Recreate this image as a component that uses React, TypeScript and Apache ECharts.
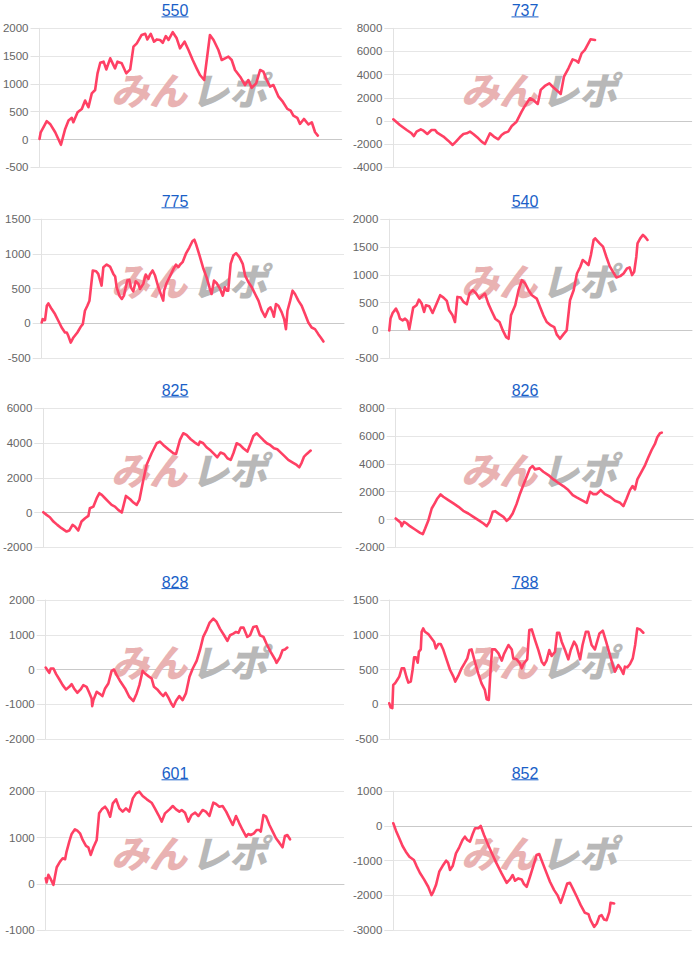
import React, { useEffect, useRef } from "react";
import * as echarts from "echarts";

type P = [number, number];

const titles = ["550", "737", "775", "540", "825", "826", "828", "788", "601", "852"];

// x = progress along the x axis (0..100), y = difference value
const d550: P[] = [[0,10],[0.4,130],[2.4,330],[3.5,280],[5.2,130],[7.1,-95],[8.5,190],[9.6,340],[10.7,390],[11.2,310],[12.6,490],[14.0,550],[15.1,700],[16.2,580],[17.3,830],[18.4,890],[19.2,1190],[20.1,1380],[21.2,1400],[22.1,1260],[23.4,1460],[25.0,1280],[25.8,1400],[27.2,1370],[28.7,1190],[30.0,1260],[31.1,1670],[32.2,1730],[33.8,1880],[35.0,1900],[35.7,1800],[36.8,1900],[37.9,1760],[38.8,1800],[39.9,1790],[40.8,1740],[41.8,1860],[42.7,1790],[44.1,1930],[45.4,1820],[46.5,1640],[48.0,1760],[49.3,1610],[50.7,1430],[52.0,1280],[53.1,1160],[54.5,1070],[56.4,1880],[57.6,1790],[59.2,1610],[60.3,1430],[61.4,1460],[62.5,1490],[63.6,1430],[64.7,1250],[66.4,1130],[68.0,980],[69.1,1070],[70.2,930],[71.7,1010],[73.0,1250],[74.1,1220],[75.2,1070],[76.3,950],[77.4,980],[79.1,770],[80.5,680],[82.0,550],[83.1,520],[84.0,430],[85.3,390],[86.2,280],[87.5,370],[89.0,270],[90.1,310],[91.2,130],[92.1,70]];

const d737: P[] = [[0,140],[2.2,-345],[4.5,-780],[6.1,-1065],[6.9,-1300],[7.8,-920],[9.2,-720],[10.1,-835],[11.4,-1120],[12.8,-780],[14.0,-780],[14.7,-1010],[16.8,-1350],[18.4,-1700],[19.9,-2070],[21.0,-1785],[22.3,-1410],[23.5,-1120],[24.6,-1065],[25.7,-920],[26.8,-1120],[28.5,-1500],[29.6,-1785],[30.7,-1985],[32.4,-1065],[33.7,-1350],[35.2,-1580],[36.3,-1210],[37.4,-1010],[38.5,-920],[39.7,-430],[41.3,-60],[43.0,805],[44.1,1295],[45.8,1960],[46.9,1810],[48.4,1470],[49.4,2680],[50.8,3020],[52.3,3250],[53.6,2910],[55.3,2530],[56.1,2330],[57.2,3830],[58.7,4550],[60.1,5320],[61.2,5210],[62.0,5040],[63.1,5840],[64.2,6130],[65.1,6560],[66.1,7050],[67.6,6990]];

const d775: P[] = [[0,14],[0.3,63],[0.8,48],[1.1,48],[1.7,255],[2.2,289],[3.3,207],[4.4,135],[5.5,39],[6.6,-58],[7.7,-130],[8.3,-130],[8.8,-178],[9.6,-275],[10.5,-202],[11.8,-130],[12.9,-48],[13.6,-10],[14.3,183],[15.1,255],[15.8,328],[16.9,762],[18.0,752],[18.7,713],[19.8,545],[20.4,810],[21.5,848],[22.6,819],[23.7,713],[24.3,675],[24.8,520],[25.7,400],[26.5,352],[27.2,400],[28.3,617],[29.0,627],[29.5,520],[30.3,463],[31.1,607],[32.0,569],[32.5,497],[33.6,569],[34.4,704],[35.3,641],[35.8,704],[36.7,762],[37.5,689],[38.6,520],[39.7,386],[40.2,328],[40.5,472],[41.3,578],[42.4,675],[43.6,786],[44.4,848],[45.2,810],[45.8,848],[46.6,882],[47.7,1003],[48.8,1089],[49.9,1186],[50.5,1205],[51.0,1147],[52.2,978],[53.5,786],[54.6,656],[55.5,520],[56.2,424],[57.0,617],[57.9,578],[59.0,497],[59.9,400],[60.6,520],[61.2,472],[61.7,472],[62.5,858],[63.4,978],[64.3,1012],[65.4,954],[66.5,858],[67.3,689],[68.4,593],[69.5,520],[70.6,424],[71.7,328],[72.8,183],[73.9,96],[75.0,207],[75.7,231],[76.4,159],[76.8,96],[77.5,280],[78.3,255],[79.4,159],[80.2,63],[80.8,-82],[81.3,183],[82.2,328],[83.0,472],[83.8,424],[84.9,328],[86.0,255],[87.1,135],[88.2,14],[89.3,-58],[90.4,-82],[91.5,-154],[92.3,-202],[93.2,-260]];

const d540: P[] = [[0,0],[0.4,211],[1.1,313],[2.2,392],[3.0,301],[3.5,211],[4.4,181],[5.2,211],[6.0,169],[6.6,20],[7.9,410],[9.0,452],[9.8,554],[10.7,482],[11.5,331],[12.1,452],[13.2,434],[14.3,313],[15.4,452],[16.8,633],[17.9,590],[19.0,530],[19.8,361],[20.9,271],[21.7,151],[22.5,602],[23.6,590],[24.5,512],[25.6,470],[26.5,663],[27.6,723],[28.7,663],[29.8,572],[30.5,614],[31.6,663],[32.7,482],[33.8,349],[35.0,211],[36.4,151],[37.5,0],[38.6,-120],[39.4,-151],[40.2,271],[41.6,452],[42.7,723],[43.8,904],[44.9,843],[46.0,723],[47.1,633],[48.7,572],[49.8,422],[50.9,271],[52.0,151],[53.4,90],[54.5,60],[55.3,-72],[56.4,-151],[57.5,-72],[58.6,0],[59.7,542],[60.9,723],[62.0,1024],[63.1,1145],[63.9,1265],[65.0,1217],[65.8,1175],[66.6,1355],[67.5,1626],[68.0,1656],[69.5,1566],[70.6,1506],[71.7,1325],[72.8,1157],[74.1,1036],[75.0,952],[76.3,976],[77.4,1024],[78.5,1114],[79.4,1133],[80.2,994],[80.9,1054],[81.6,1325],[82.0,1566],[82.9,1656],[83.8,1717],[84.6,1675],[85.3,1626]];

const d825: P[] = [[0,19],[1.1,-134],[2.2,-268],[3.4,-518],[4.7,-709],[6.1,-901],[7.8,-1093],[8.7,-1035],[9.8,-709],[10.6,-805],[11.7,-1035],[12.8,-518],[14.0,-326],[15.1,-192],[15.6,249],[16.8,345],[17.9,824],[18.8,1112],[19.6,1016],[20.7,824],[21.8,633],[22.9,441],[24.0,345],[25.1,153],[26.3,0],[27.7,958],[29.1,767],[30.2,575],[31.3,441],[32.2,728],[33.3,1687],[34.6,2741],[36.3,3412],[38.0,3987],[39.1,4083],[40.2,3891],[41.9,3642],[43.6,3412],[44.5,3374],[45.8,4179],[46.9,4563],[48.0,4467],[49.4,4218],[50.8,4026],[52.0,3891],[52.5,4083],[53.6,3987],[54.7,3757],[56.1,3566],[57.2,3374],[58.3,3182],[59.4,3451],[60.6,3374],[61.7,3125],[62.8,3029],[63.7,3412],[64.8,3987],[65.9,3891],[67.0,3700],[68.4,3508],[69.5,3987],[70.4,4409],[71.5,4563],[72.6,4371],[73.7,4179],[74.9,3987],[76.0,3891],[77.3,3700],[78.4,3642],[79.6,3451],[81.0,3221],[82.1,3029],[83.6,2876],[84.9,2741],[85.8,2607],[86.6,2876],[87.4,3221],[88.3,3374],[89.6,3566]];

const d826: P[] = [[0,72],[0.9,-96],[1.7,-240],[2.0,-481],[2.8,-168],[3.7,-288],[4.8,-481],[6.5,-721],[8.2,-962],[9.1,-1058],[9.9,-649],[11.0,-48],[12.1,793],[13.2,1202],[14.0,1514],[15.1,1803],[16.0,1635],[17.7,1394],[19.4,1154],[21.1,913],[22.7,625],[24.4,433],[26.1,192],[27.8,-48],[29.5,-288],[30.6,-481],[31.5,-168],[32.6,553],[33.4,601],[34.8,385],[36.2,192],[37.3,-96],[38.2,72],[39.3,433],[40.6,1106],[41.8,1875],[42.9,2476],[44.0,3077],[45.1,3678],[46.0,3846],[46.8,3606],[48.3,3678],[49.6,3438],[51.3,3197],[53.0,2885],[54.6,2644],[56.3,2404],[58.0,2115],[59.5,1755],[60.8,1587],[62.5,1394],[64.2,1202],[65.3,1995],[66.4,1827],[67.5,1827],[68.9,2115],[70.3,1827],[72.0,1635],[73.7,1346],[75.4,1202],[76.5,962],[77.6,1514],[78.7,2115],[79.6,2404],[80.4,2164],[81.2,2885],[82.3,3318],[83.8,3918],[84.9,4471],[86.0,5000],[87.1,5433],[87.9,5914],[88.8,6202],[89.4,6250]];

const d828: P[] = [[0,57],[0.6,-19],[1.2,-96],[1.7,29],[2.6,29],[3.5,-134],[4.6,-287],[5.7,-450],[6.8,-574],[7.9,-498],[8.7,-421],[9.5,-545],[10.6,-670],[11.7,-574],[12.6,-450],[13.7,-498],[14.6,-670],[15.4,-833],[15.6,-1053],[16.0,-880],[17.1,-641],[18.2,-708],[19.0,-766],[19.9,-545],[21.0,-402],[22.1,-38],[22.9,0],[23.8,-163],[25.1,-354],[26.6,-545],[28.0,-785],[29.4,-909],[30.5,-689],[31.4,-450],[32.5,-38],[33.3,-115],[34.4,-191],[35.5,-258],[36.3,-498],[37.4,-574],[38.5,-689],[39.4,-766],[40.2,-670],[41.1,-804],[42.2,-995],[42.8,-1072],[43.7,-900],[44.8,-766],[45.9,-880],[47.0,-689],[48.2,-211],[49.3,29],[50.6,249],[51.7,555],[52.8,938],[54.0,1148],[54.9,1340],[56.2,1464],[57.3,1368],[58.4,1177],[59.8,986],[60.9,823],[61.8,986],[62.9,1033],[63.8,1081],[64.6,1053],[65.4,1206],[66.3,1206],[67.6,938],[68.5,986],[69.6,1225],[70.7,1244],[71.8,986],[73.0,938],[74.1,727],[75.4,507],[76.9,287],[77.4,191],[78.5,344],[79.4,555],[80.2,574],[81.0,632]];

const d788: P[] = [[0,14],[0.4,-43],[1.0,-57],[1.3,278],[1.9,301],[2.6,349],[3.3,397],[4.1,517],[4.9,517],[5.7,388],[6.3,311],[7.1,325],[7.7,493],[8.2,675],[8.8,675],[9.4,598],[9.8,756],[10.4,789],[10.7,1043],[11.2,1091],[11.8,1043],[12.9,1010],[14.0,947],[14.8,900],[15.4,804],[16.2,866],[17.0,866],[17.9,780],[19.0,636],[20.1,493],[21.2,397],[21.8,325],[22.8,407],[23.9,517],[25.0,598],[25.8,660],[26.5,780],[27.2,789],[28.3,612],[29.4,445],[30.5,301],[31.6,206],[32.2,72],[32.9,62],[33.5,502],[34.0,789],[35.0,789],[36.1,732],[37.2,627],[37.9,722],[39.4,852],[40.5,789],[41.0,660],[42.1,646],[43.2,589],[43.8,517],[44.5,589],[45.6,646],[46.3,1067],[47.1,1077],[48.2,923],[49.3,780],[50.4,612],[51.2,565],[52.0,627],[52.9,780],[53.7,694],[54.8,756],[55.5,1029],[56.2,1029],[57.0,900],[58.1,780],[59.2,646],[60.0,780],[61.1,900],[61.9,842],[63.1,646],[63.9,852],[65.0,1043],[65.8,1043],[66.9,852],[68.0,789],[69.5,1019],[70.6,1058],[71.7,900],[72.8,732],[73.9,565],[74.6,469],[75.7,565],[76.5,517],[77.4,435],[77.9,541],[78.7,531],[79.6,579],[80.5,660],[81.3,852],[82.0,1091],[82.9,1077],[84.0,1029]];

const d601: P[] = [[0,122],[0.3,29],[0.9,194],[1.7,101],[2.6,-22],[3.1,158],[3.7,359],[4.8,481],[5.7,553],[6.5,531],[7.0,696],[7.9,912],[8.7,1077],[9.8,1178],[10.6,1149],[11.5,1091],[12.4,948],[13.5,819],[14.3,790],[15.1,625],[16.0,790],[17.1,948],[17.9,1522],[18.8,1608],[19.9,1666],[20.7,1594],[21.6,1450],[22.5,1738],[23.6,1824],[24.7,1630],[25.8,1558],[26.9,1630],[28.0,1558],[29.2,1845],[30.3,1953],[31.4,1989],[32.5,1896],[33.9,1824],[35.5,1752],[36.6,1630],[37.8,1486],[38.9,1343],[40.0,1522],[41.5,1608],[42.6,1680],[43.7,1608],[44.8,1558],[45.6,1594],[46.7,1536],[47.8,1343],[48.9,1486],[50.1,1536],[51.2,1465],[52.6,1594],[53.7,1558],[54.9,1465],[56.2,1752],[57.1,1723],[58.2,1666],[59.3,1680],[60.5,1558],[61.6,1414],[62.7,1271],[63.8,1465],[64.9,1307],[66.0,1163],[67.2,1020],[67.9,1077],[68.7,1055],[69.8,1091],[70.7,1163],[71.6,1163],[72.1,1127],[73.0,1486],[73.9,1450],[75.0,1271],[76.1,1127],[77.2,984],[78.3,890],[79.4,790],[80.2,1034],[81.0,1055],[81.9,962]];

const d852: P[] = [[0,77],[0.9,-135],[2.0,-356],[3.1,-577],[4.2,-740],[5.4,-885],[6.9,-981],[7.8,-1154],[8.9,-1346],[10.3,-1538],[11.7,-1750],[12.8,-1990],[13.4,-1894],[14.3,-1702],[15.4,-1317],[16.5,-1154],[17.7,-1000],[18.4,-1058],[19.0,-1269],[19.9,-1154],[21.0,-788],[22.1,-615],[23.2,-404],[24.0,-308],[24.8,-404],[25.7,-452],[26.6,-231],[27.4,-67],[28.5,-67],[29.3,0],[30.4,-260],[31.8,-548],[33.3,-837],[34.6,-1077],[36.3,-1365],[38.0,-1635],[39.1,-1538],[40.0,-1413],[40.8,-1577],[41.9,-1510],[43.0,-1538],[43.8,-1673],[44.7,-1750],[45.8,-1462],[46.9,-1154],[48.0,-837],[48.9,-808],[50.1,-1077],[51.4,-1365],[52.5,-1606],[53.9,-1846],[55.0,-1990],[56.1,-2212],[57.2,-1942],[58.3,-1654],[59.2,-1635],[60.3,-1827],[61.5,-2038],[62.8,-2279],[64.2,-2500],[65.4,-2538],[66.1,-2712],[67.3,-2904],[68.2,-2808],[69.1,-2596],[69.8,-2567],[70.6,-2692],[71.5,-2712],[72.4,-2471],[72.8,-2212],[74.0,-2231]];

const seriesData: P[][] = [d550, d737, d775, d540, d825, d826, d828, d788, d601, d852];

const yMin = [-500, -4000, -500, -500, -2000, -2000, -2000, -500, -1000, -3000];
const yMax = [2000, 8000, 1500, 2000, 6000, 8000, 2000, 1500, 2000, 1000];
const yStep = [500, 2000, 500, 500, 2000, 2000, 1000, 500, 1000, 1000];

// layout (pixels inside each 350px-wide cell)
const axisLeft = [39.5, 43.3, 41.7, 39.3, 43.3, 45.7, 45.7, 39.3, 45.7, 43.3];
const plotRight = [341.7, 341.7, 344, 342, 341.7, 343.3, 344, 341.7, 344, 341.7];
const rowTop = [28.3, 219.2, 408.3, 600, 791.2];
const plotH = 139;

const FONT = '"Liberation Sans", Arial, Helvetica, sans-serif';
const LINK = "#1a5fc8";
const RED = "#ff4064";

export default function App() {
  const ref = useRef<HTMLDivElement>(null);

  useEffect(() => {
    if (!ref.current) return;
    const chart = echarts.init(ref.current, undefined, { renderer: "svg" });

    const grids: any[] = [];
    const xAxes: any[] = [];
    const yAxes: any[] = [];
    const series: any[] = [];
    const graphics: any[] = [];

    seriesData.forEach((data, i) => {
      const col = i % 2;
      const row = Math.floor(i / 2);
      const cx = col * 350;
      const top = rowTop[row];
      grids.push({
        left: cx + axisLeft[i],
        top,
        width: plotRight[i] - axisLeft[i],
        height: plotH,
        containLabel: false,
        outerBoundsMode: "none",
      });
      xAxes.push({
        gridIndex: i,
        type: "value",
        min: 0,
        max: 100,
        axisLine: { show: true, onZero: true, lineStyle: { color: "#c9c9c9", width: 1 } },
        axisTick: { show: false },
        axisLabel: { show: false },
        splitLine: { show: false },
      });
      yAxes.push({
        gridIndex: i,
        type: "value",
        min: yMin[i],
        max: yMax[i],
        interval: yStep[i],
        axisLine: { show: true, lineStyle: { color: "#e2e2e2", width: 1 } },
        axisTick: { show: true, length: 9, lineStyle: { color: "#e2e2e2" } },
        axisLabel: {
          margin: 11,
          color: "#666666",
          fontSize: 11.5,
          fontFamily: FONT,
          formatter: (v: number) => String(v),
        },
        splitLine: { show: true, lineStyle: { color: "#e6e6e6", width: 1 } },
      });
      series.push({
        type: "line",
        xAxisIndex: i,
        yAxisIndex: i,
        data,
        showSymbol: false,
        symbol: "none",
        z: 5,
        lineStyle: { color: RED, width: 2.6, join: "round", cap: "round" },
      });

      const tx = cx + 175;
      const ty = top - 18;
      graphics.push({
        type: "text",
        x: tx,
        y: ty,
        z: 10,
        style: {
          text: titles[i],
          fill: LINK,
          font: `16px ${FONT}`,
          align: "center",
          verticalAlign: "middle",
          textAlign: "center",
          textVerticalAlign: "middle",
        },
      });
      graphics.push({
        type: "line",
        z: 10,
        shape: { x1: tx - 13.5, y1: ty + 6.6, x2: tx + 13.5, y2: ty + 6.6 },
        style: { stroke: LINK, lineWidth: 1 },
      });
      // watermark
      graphics.push({
        type: "text",
        x: cx + 187,
        y: top + 60,
        z: 1,
        silent: true,
        style: {
          text: "みん",
          fill: "#e9b2b2",
          font: 'italic 900 38px "Noto Sans CJK JP", sans-serif',
          align: "right",
          verticalAlign: "middle",
          textAlign: "right",
          textVerticalAlign: "middle",
        },
      });
      graphics.push({
        type: "text",
        x: cx + 191,
        y: top + 60,
        z: 1,
        silent: true,
        style: {
          text: "レポ",
          fill: "#b8b8b8",
          font: 'italic 900 38px "Noto Sans CJK JP", sans-serif',
          align: "left",
          verticalAlign: "middle",
          textAlign: "left",
          textVerticalAlign: "middle",
        },
      });
    });

    chart.setOption({
      animation: false,
      backgroundColor: "#ffffff",
      grid: grids,
      xAxis: xAxes,
      yAxis: yAxes,
      series,
      graphic: { elements: graphics },
    });

    return () => chart.dispose();
  }, []);

  return (
    <div
      ref={ref}
      style={{ position: "absolute", left: 0, top: 0, width: 700, height: 955, background: "#fff" }}
    />
  );
}
